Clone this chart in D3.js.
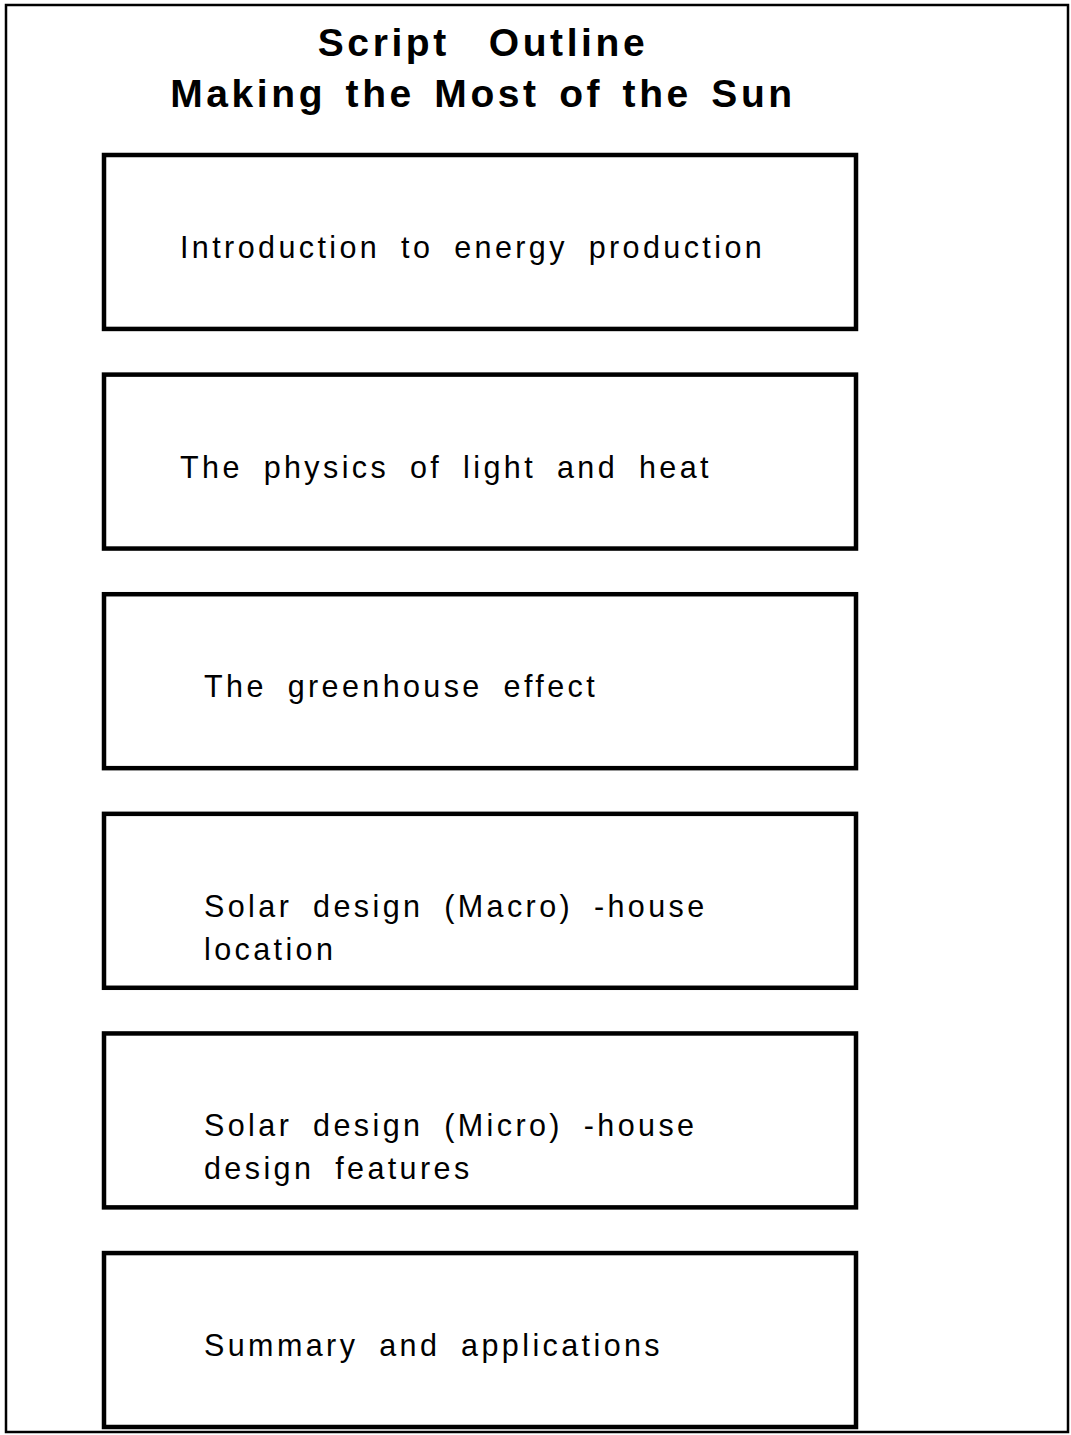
<!DOCTYPE html>
<html>
<head>
<meta charset="utf-8">
<script src="https://cdn.jsdelivr.net/npm/d3@7"></script>
<style>
  body { margin: 0; background: #fff; }
  svg { display: block; }
  text { font-family: "Liberation Sans", Arial, Helvetica, sans-serif; fill: #000; }
</style>
</head>
<body>
<svg></svg>
<script>
const width = 1071;
const height = 1435;

// title lines
const titleLines = ["Script  Outline", "Making the Most of the Sun"];

// outline steps, one box each (lines of text inside)
const steps = [
  ["Introduction to energy production"],
  ["The physics of light and heat"],
  ["The greenhouse effect"],
  ["Solar design (Macro) -house", "location"],
  ["Solar design (Micro) -house", "design features"],
  ["Summary and applications"]
];

const svg = d3.select("svg")
    .attr("width", width)
    .attr("height", height);

// outer frame
svg.append("rect")
    .attr("x", 6)
    .attr("y", 5)
    .attr("width", 1062)
    .attr("height", 1427)
    .attr("fill", "none")
    .attr("stroke", "#000")
    .attr("stroke-width", 2.5);

// titles
let titleY = d3.scalePoint()
  .domain(titleLines)
  .range([56, 107]);

svg.selectAll("text.title")
  .data(titleLines)
  .enter()
  .append("text")
    .attr("class", "title")
    .attr("x", 483)
    .attr("y", d => titleY(d))
    .style("text-anchor", "middle")
    .style("font-weight", "bold")
    .style("font-size", "39px")
    .style("letter-spacing", "3.6px")
    .style("word-spacing", "5px")
    .style("white-space", "pre")
    .text(d => d);

// boxes
let yScale = d3.scaleBand()
  .domain(d3.range(steps.length))
  .range([155, 1427])
  .paddingInner(0.208);

const boxLeft = 104;
const boxRight = 856;

let boxes = svg.selectAll("g.step")
  .data(steps)
  .enter()
  .append("g")
    .attr("class", "step")
    .attr("transform", (d, i) => `translate(0, ${yScale(i)})`);

boxes.append("rect")
    .attr("x", boxLeft)
    .attr("y", 0)
    .attr("width", boxRight - boxLeft)
    .attr("height", yScale.bandwidth())
    .attr("fill", "none")
    .attr("stroke", "#000")
    .attr("stroke-width", 4.5);

boxes.each(function(lines, i) {
  d3.select(this).selectAll("text")
    .data(lines)
    .enter()
    .append("text")
      .attr("x", i < 2 ? 180 : 204)
      .attr("y", (d, j) => yScale.bandwidth() / 2 + 16 + j * 43)
      .style("font-size", "30.5px")
      .style("letter-spacing", "3.4px")
      .style("word-spacing", "9px")
      .style("white-space", "pre")
      .text(d => d);
});
</script>
</body>
</html>
